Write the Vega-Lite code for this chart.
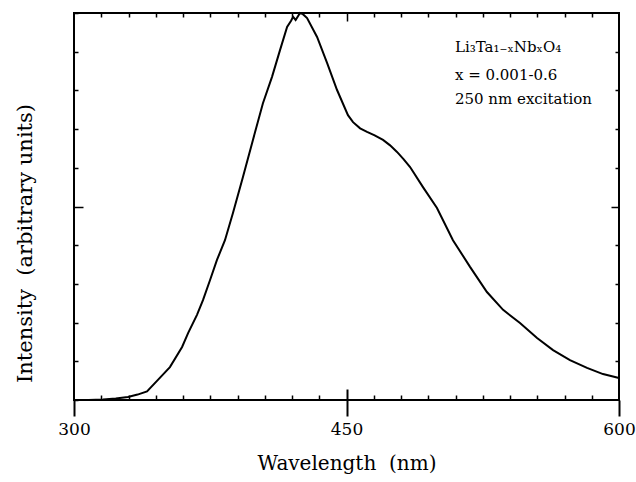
{
  "$schema": "https://vega.github.io/schema/vega-lite/v6.json",
  "width": 545,
  "height": 387,
  "autosize": "none",
  "padding": {"left": 74, "top": 13, "right": 17, "bottom": 82},
  "background": "white",
  "config": {
    "view": {"stroke": "#000", "strokeWidth": 2},
    "font": "DejaVu Serif",
    "axis": {"domain": false, "grid": false, "tickColor": "#000", "tickWidth": 1.5, "labelColor": "#000", "titleColor": "#000", "labelFont": "DejaVu Serif", "titleFont": "DejaVu Serif", "titleFontWeight": "normal"}
  },
  "datasets": {
    "spectrum": [
      {"wl": 300, "inten": 0},
      {"wl": 308, "inten": 0},
      {"wl": 316, "inten": 0.01},
      {"wl": 323, "inten": 0.04},
      {"wl": 329.7, "inten": 0.08},
      {"wl": 335, "inten": 0.14},
      {"wl": 340.2, "inten": 0.22},
      {"wl": 346.2, "inten": 0.52},
      {"wl": 352.8, "inten": 0.85},
      {"wl": 359.5, "inten": 1.37},
      {"wl": 362.8, "inten": 1.73},
      {"wl": 367.7, "inten": 2.2},
      {"wl": 371.0, "inten": 2.58},
      {"wl": 374.9, "inten": 3.1},
      {"wl": 378.7, "inten": 3.62},
      {"wl": 383.1, "inten": 4.13},
      {"wl": 387.5, "inten": 4.83},
      {"wl": 393.0, "inten": 5.76},
      {"wl": 398.5, "inten": 6.72},
      {"wl": 404.0, "inten": 7.67},
      {"wl": 409.0, "inten": 8.35},
      {"wl": 413.4, "inten": 9.04},
      {"wl": 417.3, "inten": 9.64},
      {"wl": 419.5, "inten": 9.8},
      {"wl": 420.6, "inten": 9.9},
      {"wl": 422.0, "inten": 9.82},
      {"wl": 424.4, "inten": 10.0},
      {"wl": 426.0, "inten": 9.97},
      {"wl": 428.3, "inten": 9.87},
      {"wl": 433.8, "inten": 9.38},
      {"wl": 439.3, "inten": 8.71},
      {"wl": 444.8, "inten": 8.01},
      {"wl": 450.8, "inten": 7.36},
      {"wl": 453.6, "inten": 7.18},
      {"wl": 457.5, "inten": 7.02},
      {"wl": 461.3, "inten": 6.93},
      {"wl": 465.5, "inten": 6.84},
      {"wl": 470.1, "inten": 6.72},
      {"wl": 474.0, "inten": 6.58},
      {"wl": 477.8, "inten": 6.41},
      {"wl": 481.5, "inten": 6.22},
      {"wl": 485.0, "inten": 6.02},
      {"wl": 492.1, "inten": 5.5},
      {"wl": 499.8, "inten": 4.96},
      {"wl": 508.6, "inten": 4.13},
      {"wl": 518.0, "inten": 3.44},
      {"wl": 527.3, "inten": 2.79},
      {"wl": 536.2, "inten": 2.33},
      {"wl": 545.5, "inten": 1.99},
      {"wl": 554.9, "inten": 1.6},
      {"wl": 563.7, "inten": 1.29},
      {"wl": 573.0, "inten": 1.03},
      {"wl": 582.4, "inten": 0.83},
      {"wl": 591.2, "inten": 0.67},
      {"wl": 600, "inten": 0.57}
    ],
    "notes": [
      {"wl": 509.7, "inten": 9.12, "label": "Li₃Ta₁₋ₓNbₓO₄"},
      {"wl": 509.7, "inten": 8.4, "label": "x = 0.001-0.6"},
      {"wl": 509.7, "inten": 7.78, "label": "250 nm excitation"}
    ]
  },
  "layer": [
    {
      "data": {"name": "spectrum"},
      "mark": {"type": "line", "color": "#000", "strokeWidth": 2},
      "encoding": {
        "x": {
          "field": "wl", "type": "quantitative",
          "scale": {"domain": [300, 600], "nice": false, "zero": false},
          "axis": {
            "orient": "bottom",
            "values": [300, 450, 600],
            "tickSize": 16, "tickWidth": 2,
            "labelFontSize": 17, "labelPadding": 5, "labelOverlap": false, "labelFlush": false,
            "title": "Wavelength\u00a0 (nm)", "titleFontSize": 20, "titlePadding": 16
          }
        },
        "y": {
          "field": "inten", "type": "quantitative",
          "scale": {"domain": [0, 10], "nice": false},
          "axis": {
            "orient": "left",
            "values": [0, 1, 2, 3, 4, 5, 6, 7, 8, 9, 10],
            "tickSize": {"condition": {"test": "datum.value === 5", "value": -9}, "value": -4},
            "labels": false,
            "title": "Intensity\u00a0 (arbitrary units)", "titleFontSize": 21,
            "titleX": -49, "titleY": 230, "titleBaseline": "middle", "titleAngle": -90
          }
        }
      }
    },
    {
      "data": {"name": "spectrum"},
      "mark": {"type": "line", "opacity": 0},
      "encoding": {
        "x": {
          "field": "wl", "type": "quantitative",
          "axis": {
            "orient": "top",
            "values": [315, 330, 345, 360, 375, 390, 405, 420, 435, 450, 465, 480, 495, 510, 525, 540, 555, 570, 585],
            "tickSize": {"condition": {"test": "datum.value === 450", "value": -8}, "value": -4},
            "labels": false, "title": null
          }
        },
        "y": {
          "field": "inten", "type": "quantitative",
          "axis": {
            "orient": "right",
            "values": [1, 2, 3, 4, 5, 6, 7, 8, 9],
            "tickSize": {"condition": {"test": "datum.value === 5", "value": -8}, "value": -4},
            "labels": false, "title": null
          }
        }
      }
    },
    {
      "data": {"name": "spectrum"},
      "mark": {"type": "line", "opacity": 0},
      "encoding": {
        "x": {
          "field": "wl", "type": "quantitative",
          "axis": {
            "orient": "bottom",
            "values": [315, 330, 345, 360, 375, 390, 405, 420, 435, 450, 465, 480, 495, 510, 525, 540, 555, 570, 585],
            "tickSize": {"condition": {"test": "datum.value === 450", "value": -11}, "value": -5},
            "tickWidth": {"condition": {"test": "datum.value === 450", "value": 2}, "value": 1.5},
            "labels": false, "title": null
          }
        },
        "y": {"field": "inten", "type": "quantitative", "axis": null}
      }
    },
    {
      "data": {"name": "notes"},
      "mark": {"type": "text", "align": "left", "baseline": "middle", "font": "DejaVu Serif", "fontSize": 15, "color": "#000"},
      "encoding": {
        "x": {"field": "wl", "type": "quantitative", "axis": null},
        "y": {"field": "inten", "type": "quantitative", "axis": null},
        "text": {"field": "label"}
      }
    }
  ],
  "resolve": {"axis": {"x": "independent", "y": "independent"}}
}
